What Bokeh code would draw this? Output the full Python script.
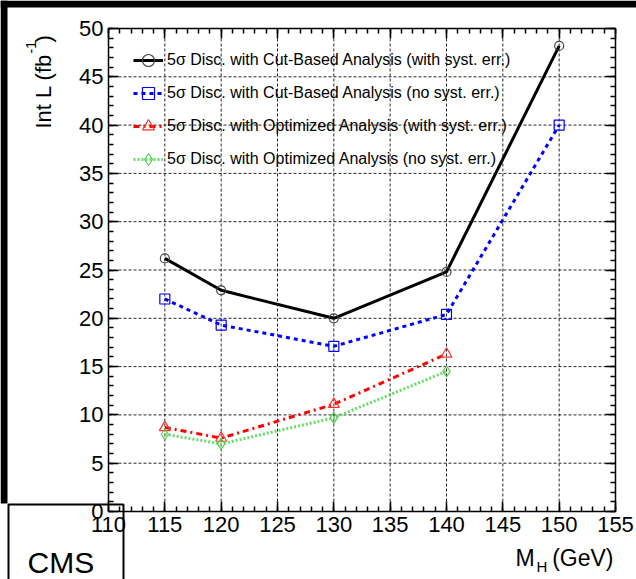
from math import pi

from bokeh.plotting import figure
from bokeh.models import (LinearAxis, Range1d, Legend, LegendItem, Label,
                          BoxAnnotation, SingleIntervalTicker)
from bokeh.embed import file_html
from bokeh.resources import INLINE

# Higgs mass points (GeV)
mass = [115, 120, 130, 140, 150]
mass_opt = [115, 120, 130, 140]

# integrated luminosity for 5 sigma discovery (fb^-1)
cut_syst = [26.2, 22.9, 20.0, 24.8, 48.2]
cut_nosyst = [22.0, 19.3, 17.1, 20.4, 40.0]
opt_syst = [8.7, 7.6, 11.1, 16.3]
opt_nosyst = [8.0, 7.0, 9.7, 14.5]

labels = ["5\u03c3 Disc. with Cut-Based Analysis (with syst. err.)",
          "5\u03c3 Disc. with Cut-Based Analysis (no syst. err.)",
          "5\u03c3 Disc. with Optimized Analysis (with syst. err.)",
          "5\u03c3 Disc. with Optimized Analysis (no syst. err.)"]

x_lo, x_hi = 110, 155
y_lo, y_hi = 0, 50
x_grid = [115, 120, 125, 130, 135, 140, 145, 150]
y_grid = [5, 10, 15, 20, 25, 30, 35, 40, 45]

FONT = "Liberation Sans"
W, H = 636, 579
# frame = whole canvas; the plot box sits at x 108..615, y 28..511 (pixels)
kx = (615 - 108) / (x_hi - x_lo)
ky = (511 - 28) / (y_hi - y_lo)

p = figure(width=W, height=H, output_backend="svg", toolbar_location=None,
           x_range=Range1d(x_lo - 108 / kx, x_hi + (W - 615) / kx),
           y_range=Range1d(y_lo - (H - 511) / ky, y_hi + 28 / ky),
           min_border=0, background_fill_color="white", border_fill_color="white")
p.outline_line_color = None

p.add_layout(LinearAxis(), "above")
p.add_layout(LinearAxis(), "right")
p.below[0].fixed_location = y_lo
p.above[0].fixed_location = y_hi
p.left[0].fixed_location = x_lo
p.right[0].fixed_location = x_hi
p.xaxis.bounds = (x_lo, x_hi)
p.yaxis.bounds = (y_lo, y_hi)

for ax in p.axis:
    ax.ticker = SingleIntervalTicker(interval=5, num_minor_ticks=5)
    ax.axis_line_width = 1.5
    ax.axis_line_color = "black"
    ax.major_tick_in = 10
    ax.major_tick_out = 0
    ax.minor_tick_in = 5
    ax.minor_tick_out = 0
    ax.major_tick_line_width = 1.5
    ax.minor_tick_line_width = 1.5
    ax.major_tick_line_color = "black"
    ax.minor_tick_line_color = "black"
    ax.major_label_text_font = FONT
    ax.major_label_text_font_size = "22px"
    ax.major_label_text_color = "black"
    ax.major_label_standoff = 5
p.above[0].major_label_overrides = {float(t): "" for t in range(x_lo, x_hi + 1, 5)}
p.right[0].major_label_overrides = {float(t): "" for t in range(y_lo, y_hi + 1, 5)}
p.grid.visible = False

# dotted grid inside the plot box only
p.segment(x0=x_grid, y0=y_lo, x1=x_grid, y1=y_hi, line_color="black",
          line_dash="3 2", line_width=1, line_alpha=0.85, level="underlay")
p.segment(x0=x_lo, y0=y_grid, x1=x_hi, y1=y_grid, line_color="black",
          line_dash="3 2", line_width=1, line_alpha=0.85, level="underlay")

# black strips at top / left and the CMS box
p.add_layout(BoxAnnotation(left=0, right=W, top=H, bottom=H - 7,
                           left_units="screen", right_units="screen",
                           top_units="screen", bottom_units="screen",
                           fill_color="black", fill_alpha=1, line_color=None,
                           level="underlay"))
p.add_layout(BoxAnnotation(left=0, right=7, top=H, bottom=H - 503,
                           left_units="screen", right_units="screen",
                           top_units="screen", bottom_units="screen",
                           fill_color="black", fill_alpha=1, line_color=None,
                           level="underlay"))
p.add_layout(BoxAnnotation(left=8, right=123, top=H - 504, bottom=-5,
                           left_units="screen", right_units="screen",
                           top_units="screen", bottom_units="screen",
                           fill_color="white", fill_alpha=1,
                           line_color="black", line_alpha=1, line_width=2,
                           level="underlay"))

l1 = p.line(mass, cut_syst, line_color="black", line_width=3)
m1 = p.scatter(mass, cut_syst, marker="circle", size=9, fill_color=None,
               line_color="#444444", line_width=1.2)
l2 = p.line(mass, cut_nosyst, line_color="blue", line_width=3, line_dash="4 4")
m2 = p.scatter(mass, cut_nosyst, marker="square", size=10, fill_color=None,
               line_color="blue", line_width=1.2)
l3 = p.line(mass_opt, opt_syst, line_color="red", line_width=3, line_dash="6 4 2 4")
m3 = p.scatter(mass_opt, opt_syst, marker="triangle", size=11, fill_color=None,
               line_color="#ff3333", line_width=1.2)
l4 = p.line(mass_opt, opt_nosyst, line_color="#66dd66", line_width=3, line_dash="2 2")
m4 = p.scatter(mass_opt, opt_nosyst, marker="diamond", size=11, fill_color=None,
               line_color="#55cc55", line_width=1.2)

legend = Legend(items=[LegendItem(label=labels[0], renderers=[l1, m1]),
                       LegendItem(label=labels[1], renderers=[l2, m2]),
                       LegendItem(label=labels[2], renderers=[l3, m3]),
                       LegendItem(label=labels[3], renderers=[l4, m4])],
                location=(133, H - 175), padding=0, spacing=1,
                glyph_width=30, glyph_height=32, label_standoff=4,
                label_text_font=FONT, label_text_font_size="16px",
                label_text_color="black",
                background_fill_alpha=0, border_line_color=None)
p.add_layout(legend)


def put(text, x, y, size, angle=0, align="left"):
    # x, y in pixels from the top-left corner of the picture
    p.add_layout(Label(x=x, y=H - y, x_units="screen", y_units="screen",
                       angle=angle, text=text, text_font=FONT,
                       text_font_size=size, text_align=align,
                       text_color="black", text_baseline="alphabetic"))


# axis titles
put("Int L (fb", 43, 128, "22px", angle=pi / 2)
put("-1", 30, 53, "14px", angle=pi / 2)
put(")", 43, 42, "22px", angle=pi / 2)

put("M", 515, 557, "23px")
put("H", 536, 566, "15px")
put("(GeV)", 613, 557, "23px", align="right")

put("CMS", 27, 562, "30px")

open("out.html", "w").write(file_html(p, INLINE))
